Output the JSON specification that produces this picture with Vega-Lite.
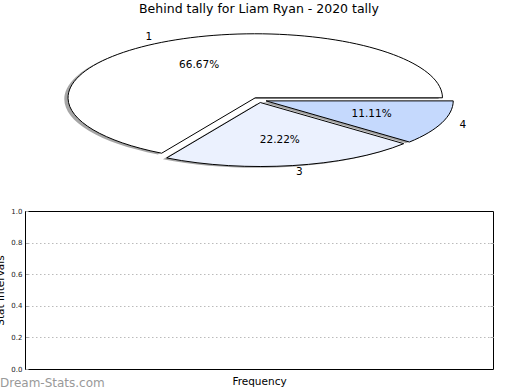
{
  "$schema": "https://vega.github.io/schema/vega-lite/v6.json",
  "autosize": "none",
  "padding": {"left": 25, "top": 20, "right": 495, "bottom": 370},
  "background": "white",
  "config": {"font": "DejaVu Sans", "view": {"stroke": null}},
  "spacing": 31,
  "bounds": "flush",
  "datasets": {
    "tally": [
      {"behinds": "1", "count": 6},
      {"behinds": "3", "count": 2},
      {"behinds": "4", "count": 1}
    ]
  },
  "vconcat": [
    {
      "width": 468,
      "height": 160,
      "title": {"text": "Behind tally for Liam Ryan - 2020 tally", "fontSize": 12.5, "fontWeight": "normal", "color": "#000000", "anchor": "middle", "frame": "group", "baseline": "alphabetic", "offset": -5},
      "data": {"name": "tally"},
      "transform": [
        {"joinaggregate": [{"op": "sum", "field": "count", "as": "total"}]},
        {"window": [{"op": "sum", "field": "count", "as": "cum"}], "sort": [{"field": "behinds"}], "frame": [null, 0]},
        {"calculate": "2*PI*(datum.cum-datum.count)/datum.total", "as": "a0"},
        {"calculate": "2*PI*datum.cum/datum.total", "as": "a1"},
        {"calculate": "(datum.a0+datum.a1)/2", "as": "am"},
        {"calculate": "0.04*cos(datum.am)", "as": "ox"},
        {"calculate": "0.04*sin(datum.am)", "as": "oy"},
        {"calculate": "datum.ox-0.02", "as": "sx"},
        {"calculate": "datum.oy-0.02", "as": "sy"},
        {"calculate": "datum.ox+0.6*cos(datum.am)", "as": "px"},
        {"calculate": "datum.oy+0.6*sin(datum.am)", "as": "py"},
        {"calculate": "datum.ox+1.1*cos(datum.am)", "as": "lx"},
        {"calculate": "datum.oy+1.1*sin(datum.am)", "as": "ly"},
        {"calculate": "format(100*datum.count/datum.total,'.2f')+'%'", "as": "pct"},
        {"calculate": "'M0,0L'+round(cos(datum.a0)*100000)/100000+','+round(-0.3419*sin(datum.a0)*100000)/100000+'A1,0.3419 0 '+(datum.a1-datum.a0>PI?1:0)+',0 '+round(cos(datum.a1)*100000)/100000+','+round(-0.3419*sin(datum.a1)*100000)/100000+'Z'", "as": "path"}
      ],
      "layer": [
        {
          "mark": {"type": "point", "filled": true, "fill": "#4d4d4d", "opacity": 0.5, "strokeWidth": 0, "size": 140175},
          "encoding": {
            "x": {"field": "sx", "type": "quantitative", "scale": {"domain": [-1.25, 1.25], "nice": false, "zero": false}, "axis": null},
            "y": {"field": "sy", "type": "quantitative", "scale": {"domain": [-1.25, 1.25], "nice": false, "zero": false}, "axis": null},
            "shape": {"field": "path", "type": "nominal", "scale": null, "legend": null}
          }
        },
        {
          "mark": {"type": "point", "filled": true, "opacity": 1, "stroke": "#000000", "strokeWidth": 1, "size": 140175},
          "encoding": {
            "x": {"field": "ox", "type": "quantitative", "axis": null},
            "y": {"field": "oy", "type": "quantitative", "axis": null},
            "shape": {"field": "path", "type": "nominal", "scale": null, "legend": null},
            "fill": {"field": "behinds", "type": "nominal", "scale": {"domain": ["1", "3", "4"], "range": ["#ffffff", "#ebf1fe", "#c5d9fd"]}, "legend": null}
          }
        },
        {
          "mark": {"type": "text", "fontSize": 10.5, "color": "#000000", "align": "center", "baseline": "middle"},
          "encoding": {
            "x": {"field": "px", "type": "quantitative", "axis": null},
            "y": {"field": "py", "type": "quantitative", "axis": null},
            "text": {"field": "pct"}
          }
        },
        {
          "mark": {"type": "text", "fontSize": 10.5, "color": "#000000", "baseline": "middle", "align": {"expr": "datum.lx < 0 ? 'right' : 'left'"}},
          "encoding": {
            "x": {"field": "lx", "type": "quantitative", "axis": null},
            "y": {"field": "ly", "type": "quantitative", "axis": null},
            "text": {"field": "behinds"}
          }
        }
      ]
    },
    {
      "width": 468,
      "height": 158,
      "view": {"stroke": "#000000", "strokeWidth": 1},
      "title": {"text": "Dream-Stats.com", "orient": "bottom", "anchor": "start", "frame": "group", "dx": -25, "offset": 0, "baseline": "alphabetic", "fontSize": 12, "fontWeight": "normal", "color": "#999999"},
      "data": {"values": []},
      "layer": [
        {
          "mark": {"type": "point"},
          "encoding": {
            "x": {"field": "f", "type": "quantitative", "scale": {"domain": [0, 1], "nice": false}, "axis": {"title": "Frequency", "labels": false, "ticks": false, "domain": false, "grid": false, "titleFontSize": 10.5, "titleFontWeight": "normal", "titleColor": "#000000", "titleY": 15, "titleBaseline": "alphabetic"}},
            "y": {"field": "v", "type": "quantitative", "scale": {"domain": [0, 1], "nice": false}, "axis": {"orient": "left", "values": [0, 0.2, 0.4, 0.6, 0.8, 1], "format": ".1f", "grid": false, "domain": true, "domainColor": "#000000", "ticks": true, "tickSize": -3, "tickColor": "#aaaaaa", "labelPadding": 6, "labelFontSize": 7, "labelColor": "#222222", "title": "Stat Intervals", "titleFontSize": 10.5, "titleFontWeight": "normal", "titleColor": "#000000", "titleX": -22, "titleY": 79, "titleBaseline": "alphabetic", "titleAlign": "center"}}
          }
        },
        {
          "mark": {"type": "point"},
          "encoding": {
            "y": {"field": "v", "type": "quantitative", "axis": {"orient": "right", "values": [0.2, 0.4, 0.6, 0.8], "labels": false, "domain": false, "grid": true, "gridDash": [1.5, 2.5], "gridColor": "#bbbbbb", "ticks": true, "tickSize": -3, "tickColor": "#aaaaaa", "title": null}}
          }
        }
      ],
      "resolve": {"axis": {"y": "independent"}}
    }
  ]
}
